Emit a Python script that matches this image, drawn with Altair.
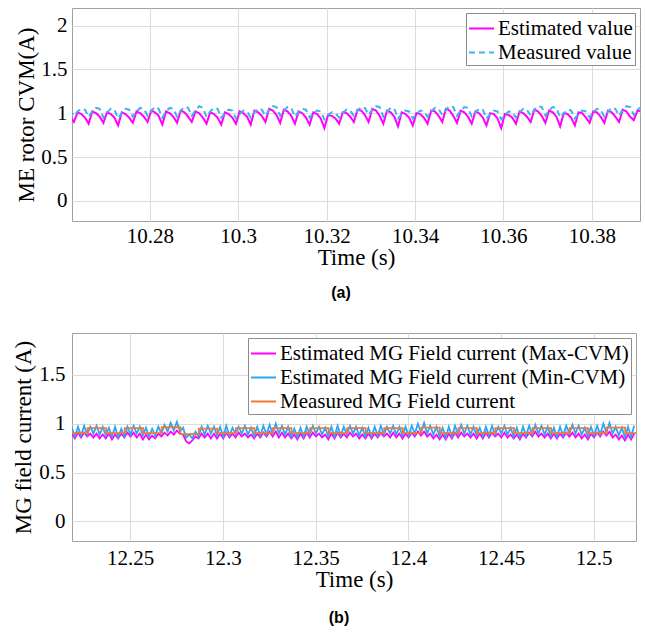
import altair as alt
import pandas as pd

SERIF = "Liberation Serif"

# ---------------- Panel (a) data ----------------
A_T0 = 10.2620      # first sample time (s)
A_DT = 0.0008333    # sample step (s)
A_SERIES = ["Estimated value", "Measured value"]
A_EST = [0.96,
    0.90, 1.01, 0.99, 0.95,  0.88, 1.02, 1.00, 0.96,  0.89, 1.01, 0.99, 0.95,
    0.86, 1.01, 0.99, 0.95,  0.89, 1.02, 1.00, 0.96,  0.90, 1.03, 1.01, 0.97,
    0.87, 1.02, 1.00, 0.96,  0.89, 1.03, 1.01, 0.96,  0.90, 1.02, 1.00, 0.95,
    0.88, 1.01, 0.99, 0.95,  0.87, 1.01, 0.99, 0.95,  0.88, 1.02, 1.00, 0.96,
    0.87, 1.03, 1.01, 0.97,  0.90, 1.05, 1.03, 0.98,  0.89, 1.04, 1.02, 0.97,
    0.88, 1.02, 1.00, 0.95,  0.87, 1.01, 0.99, 0.94,  0.83, 0.98, 0.97, 0.94,
    0.88, 1.01, 1.00, 0.96,  0.90, 1.04, 1.03, 0.98,  0.90, 1.05, 1.03, 0.97,
    0.88, 1.03, 1.01, 0.96,  0.85, 1.01, 0.99, 0.95,  0.86, 1.00, 0.99, 0.95,
    0.88, 1.03, 1.02, 0.97,  0.90, 1.05, 1.03, 0.97,  0.89, 1.03, 1.01, 0.96,
    0.88, 1.02, 1.00, 0.95,  0.86, 1.00, 0.99, 0.94,  0.83, 0.99, 0.98, 0.95,
    0.88, 1.02, 1.00, 0.96,  0.90, 1.04, 1.02, 0.97,  0.89, 1.03, 1.01, 0.96,
    0.85, 1.00, 0.99, 0.95,  0.86, 1.01, 1.00, 0.95,  0.89, 1.02, 1.01, 0.96,
    0.89, 1.03, 1.01, 0.96,  0.90, 1.04, 1.02, 0.96,  0.92, 1.03, 1.02, 1.01]
A_MEAS = [1.04,
    0.97, 1.02, 1.05, 1.04,  0.96, 1.02, 1.06, 1.05,  0.95, 1.01, 1.05, 1.04,
    0.94, 1.00, 1.05, 1.04,  0.96, 1.02, 1.06, 1.05,  0.97, 1.03, 1.07, 1.05,
    0.95, 1.02, 1.06, 1.05,  0.96, 1.03, 1.07, 1.06,  0.97, 1.03, 1.08, 1.06,
    0.96, 1.02, 1.06, 1.05,  0.95, 1.00, 1.04, 1.03,  0.94, 0.99, 1.03, 1.02,
    0.95, 1.01, 1.05, 1.04,  0.97, 1.04, 1.08, 1.07,  0.97, 1.03, 1.07, 1.06,
    0.96, 1.02, 1.05, 1.04,  0.95, 1.00, 1.03, 1.02,  0.93, 0.98, 1.01, 1.00,
    0.95, 1.00, 1.04, 1.03,  0.97, 1.03, 1.07, 1.06,  0.98, 1.04, 1.08, 1.07,
    0.96, 1.02, 1.06, 1.05,  0.94, 0.99, 1.03, 1.02,  0.94, 0.99, 1.03, 1.02,
    0.96, 1.02, 1.06, 1.05,  0.98, 1.04, 1.08, 1.07,  0.97, 1.03, 1.07, 1.06,
    0.96, 1.01, 1.05, 1.04,  0.94, 0.99, 1.03, 1.02,  0.93, 0.98, 1.02, 1.01,
    0.95, 1.01, 1.05, 1.04,  0.97, 1.04, 1.08, 1.07,  0.97, 1.03, 1.07, 1.06,
    0.95, 1.00, 1.04, 1.03,  0.94, 0.99, 1.03, 1.02,  0.95, 1.01, 1.05, 1.04,
    0.96, 1.02, 1.06, 1.05,  0.97, 1.04, 1.08, 1.07,  0.98, 1.04, 1.07, 1.06]
A_XTICKS = [10.28, 10.30, 10.32, 10.34, 10.36, 10.38]
A_YTICKS = [0, 0.5, 1, 1.5, 2]
A_XDOM = [10.2624, 10.3909]
A_YDOM = [-0.23, 2.2]

# ---------------- Panel (b) data ----------------
B_T0 = 12.2185
B_DT = 0.0016667
B_SERIES = ["Estimated MG Field current (Max-CVM)",
            "Estimated MG Field current (Min-CVM)",
            "Measured MG Field current"]
B_MAX = [
    0.90, 0.85, 0.91, 0.86, 0.91, 0.87, 0.90, 0.86, 0.90, 0.85, 0.89, 0.85,
    0.90, 0.84, 0.89, 0.85, 0.90, 0.86, 0.91, 0.87, 0.91, 0.86, 0.90, 0.84,
    0.89, 0.84, 0.88, 0.85, 0.90, 0.87, 0.91, 0.88, 0.92, 0.89, 0.93, 0.90,
    0.89, 0.82, 0.80, 0.83, 0.87, 0.85, 0.90, 0.86, 0.90, 0.85, 0.90, 0.85,
    0.90, 0.85, 0.91, 0.86, 0.90, 0.86, 0.91, 0.87, 0.90, 0.86, 0.89, 0.85,
    0.90, 0.86, 0.91, 0.87, 0.92, 0.87, 0.92, 0.86, 0.91, 0.86, 0.90, 0.85,
    0.89, 0.84, 0.90, 0.85, 0.91, 0.86, 0.91, 0.87, 0.90, 0.86, 0.89, 0.84,
    0.90, 0.85, 0.91, 0.86, 0.90, 0.86, 0.91, 0.87, 0.90, 0.85, 0.89, 0.85,
    0.90, 0.85, 0.90, 0.86, 0.91, 0.87, 0.90, 0.86, 0.91, 0.86, 0.90, 0.85,
    0.90, 0.86, 0.91, 0.87, 0.92, 0.88, 0.92, 0.87, 0.90, 0.85, 0.89, 0.84,
    0.89, 0.84, 0.90, 0.85, 0.91, 0.86, 0.91, 0.87, 0.90, 0.86, 0.90, 0.85,
    0.90, 0.85, 0.91, 0.86, 0.91, 0.87, 0.90, 0.86, 0.91, 0.86, 0.89, 0.85,
    0.89, 0.84, 0.90, 0.86, 0.91, 0.87, 0.92, 0.87, 0.90, 0.86, 0.90, 0.85,
    0.90, 0.85, 0.90, 0.86, 0.91, 0.87, 0.91, 0.86, 0.90, 0.85, 0.89, 0.84,
    0.90, 0.86, 0.91, 0.87, 0.92, 0.88, 0.92, 0.86, 0.89, 0.84, 0.88, 0.83,
    0.89, 0.84, 0.90]
B_MIN = [
    0.96, 0.87, 0.97, 0.88, 0.98, 0.89, 0.97, 0.90, 0.98, 0.89, 0.97, 0.88,
    0.96, 0.87, 0.97, 0.86, 0.95, 0.87, 0.97, 0.89, 0.98, 0.90, 0.97, 0.88,
    0.96, 0.87, 0.95, 0.88, 0.97, 0.90, 0.99, 0.92, 1.01, 0.93, 1.02, 0.92,
    0.96, 0.86, 0.89, 0.85, 0.92, 0.87, 0.97, 0.89, 0.98, 0.90, 0.97, 0.88,
    0.97, 0.87, 0.98, 0.88, 0.96, 0.89, 0.97, 0.90, 0.98, 0.89, 0.96, 0.87,
    0.97, 0.88, 0.98, 0.89, 0.99, 0.90, 1.00, 0.90, 0.98, 0.89, 0.97, 0.87,
    0.95, 0.86, 0.96, 0.87, 0.97, 0.89, 0.98, 0.90, 0.97, 0.89, 0.96, 0.87,
    0.97, 0.87, 0.98, 0.88, 0.97, 0.89, 0.98, 0.90, 0.97, 0.88, 0.96, 0.87,
    0.96, 0.87, 0.97, 0.88, 0.98, 0.89, 0.97, 0.90, 0.98, 0.89, 0.97, 0.88,
    0.97, 0.88, 0.98, 0.90, 1.00, 0.91, 1.01, 0.90, 0.98, 0.89, 0.97, 0.87,
    0.96, 0.86, 0.97, 0.87, 0.98, 0.89, 0.99, 0.90, 0.98, 0.89, 0.97, 0.88,
    0.96, 0.87, 0.97, 0.88, 0.98, 0.89, 0.97, 0.90, 0.98, 0.89, 0.96, 0.87,
    0.96, 0.86, 0.97, 0.88, 0.98, 0.89, 0.99, 0.90, 0.98, 0.89, 0.97, 0.87,
    0.96, 0.87, 0.97, 0.88, 0.98, 0.90, 0.99, 0.90, 0.98, 0.89, 0.96, 0.87,
    0.97, 0.88, 0.98, 0.89, 1.00, 0.91, 1.01, 0.90, 0.97, 0.88, 0.96, 0.86,
    0.97, 0.87, 0.98]
B_MEAS_T = [12.2185, 12.227, 12.237, 12.247, 12.257, 12.267, 12.277, 12.287,
            12.297, 12.307, 12.317, 12.327, 12.337, 12.347, 12.357, 12.367,
            12.377, 12.387, 12.397, 12.407, 12.417, 12.427, 12.437, 12.447,
            12.457, 12.467, 12.477, 12.487, 12.497, 12.507, 12.517, 12.5235]
B_MEAS_V = [0.905, 0.955, 0.905, 0.955, 0.905, 0.965, 0.895, 0.950,
            0.905, 0.955, 0.905, 0.955, 0.905, 0.955, 0.905, 0.955,
            0.905, 0.955, 0.905, 0.960, 0.905, 0.955, 0.905, 0.955,
            0.905, 0.955, 0.905, 0.955, 0.905, 0.960, 0.905, 0.905]
B_XTICKS = [12.25, 12.30, 12.35, 12.40, 12.45, 12.50]
B_YTICKS = [0, 0.5, 1, 1.5]
B_XDOM = [12.2186, 12.5228]
B_YDOM = [-0.2, 1.93]

# ---------------- tables ----------------
rows_a = []
for name, vals in zip(A_SERIES, [A_EST, A_MEAS]):
    for i, v in enumerate(vals):
        rows_a.append({"t": A_T0 + i * A_DT, "v": v, "s": name})
df_a = pd.DataFrame(rows_a)

rows_b = []
for name, vals in zip(B_SERIES[:2], [B_MAX, B_MIN]):
    for i, v in enumerate(vals):
        rows_b.append({"t": B_T0 + i * B_DT, "v": v, "s": name})
df_b = pd.DataFrame(rows_b)
df_bm = pd.DataFrame({"t": B_MEAS_T, "v": B_MEAS_V, "s": B_SERIES[2]})

GRID = "#dcdcdc"


def xaxis(vals, lpad):
    return alt.Axis(values=vals, format="~g", title="Time (s)", grid=True,
                    gridColor=GRID, ticks=False, domain=False, labelPadding=lpad,
                    titlePadding=0, labelFlush=False, labelOverlap=False)


def yaxis(vals, title, lpad, tpad):
    return alt.Axis(values=vals, format="~g", title=title, grid=True,
                    gridColor=GRID, ticks=False, domain=False, labelPadding=lpad,
                    titlePadding=tpad, labelFlush=False, labelOverlap=False)


def legend(pad):
    return alt.Legend(title=None, orient="top-right", offset=5, fillColor="white",
                      strokeColor="#8c8c8c", padding=pad, labelFont=SERIF,
                      labelFontSize=21, labelColor="black", symbolType="stroke",
                      symbolSize=625, symbolStrokeWidth=2, rowPadding=0,
                      labelOffset=3, labelLimit=500)


def caption(text, off):
    return alt.TitleParams(text, orient="bottom", font="Liberation Sans", fontSize=16,
                           fontWeight="bold", color="black", offset=off, dx=-15,
                           anchor="middle", frame="group")


leg_a = legend(2)
panel_a = alt.Chart(df_a).mark_line(strokeWidth=2, clip=True).encode(
    x=alt.X("t:Q", scale=alt.Scale(domain=A_XDOM, nice=False, zero=False),
            axis=xaxis(A_XTICKS, 4)),
    y=alt.Y("v:Q", scale=alt.Scale(domain=A_YDOM, nice=False, zero=False),
            axis=yaxis(A_YTICKS, "ME rotor CVM(A)", 5, 2)),
    color=alt.Color("s:N", scale=alt.Scale(domain=A_SERIES, range=["#ff00ff", "#3cb4f0"]),
                    legend=leg_a),
    strokeDash=alt.StrokeDash("s:N", scale=alt.Scale(domain=A_SERIES, range=[[1, 0], [6, 4]]),
                              legend=leg_a),
    order=alt.Order("t:Q"),
).properties(width=568, height=213, title=caption("(a)", 16))

cscale_b = alt.Scale(domain=B_SERIES, range=["#ff00ff", "#2ea6f2", "#f07838"])
leg_b = legend(2)
xb = alt.X("t:Q", scale=alt.Scale(domain=B_XDOM, nice=False, zero=False), axis=xaxis(B_XTICKS, 6))
yb = alt.Y("v:Q", scale=alt.Scale(domain=B_YDOM, nice=False, zero=False),
           axis=yaxis(B_YTICKS, "MG field current (A)", 7, 3))
lines_b = alt.Chart(df_b).mark_line(strokeWidth=1.8, clip=True).encode(
    x=xb, y=yb, color=alt.Color("s:N", scale=cscale_b, legend=leg_b), order=alt.Order("t:Q"))
meas_b = alt.Chart(df_bm).mark_line(strokeWidth=1.8, clip=True, interpolate="step-after").encode(
    x=xb, y=yb, color=alt.Color("s:N", scale=cscale_b, legend=leg_b), order=alt.Order("t:Q"))
panel_b = alt.layer(lines_b, meas_b).properties(
    width=564, height=208, title=caption("(b)", 19))

chart = alt.concat(panel_a, panel_b, columns=1, spacing=30).resolve_scale(
    color="independent", strokeDash="independent"
).resolve_legend(
    color="independent", strokeDash="independent"
).properties(
    padding={"left": 12, "top": 7, "right": 0, "bottom": 0},
    background="white",
).configure_axis(
    labelFont=SERIF, labelFontSize=21, labelColor="black",
    titleFont=SERIF, titleFontSize=23, titleFontWeight="normal", titleColor="black",
).configure_view(stroke="#a0a0a0", strokeWidth=1)

chart.save("out.html", embed_options={"renderer": "svg", "actions": False})
